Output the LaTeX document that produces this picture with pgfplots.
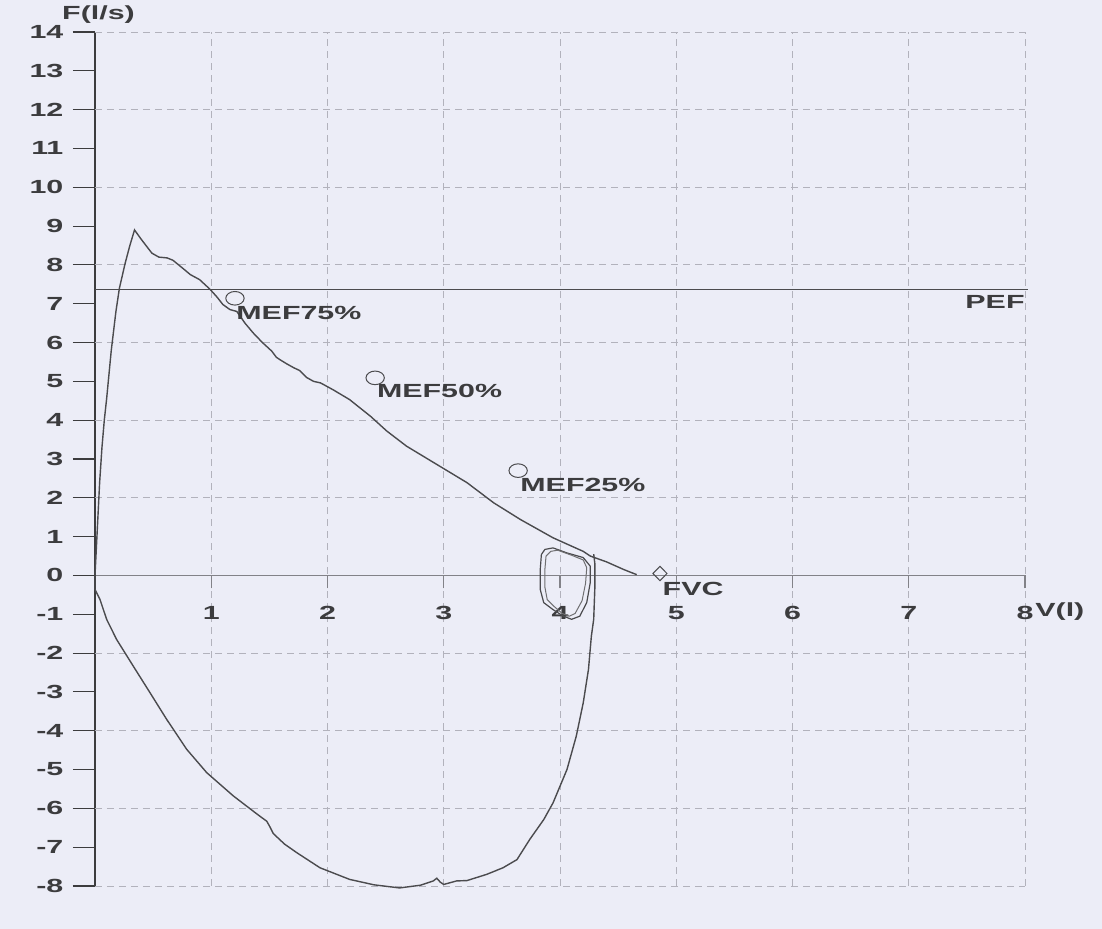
\documentclass[border=0pt]{standalone}
\usepackage{fontspec}
\setmainfont{Liberation Sans}[FakeStretch=1.6]
\usepackage{pgfplots}
\pgfplotsset{compat=1.18}
\begin{document}
\begin{tikzpicture}
\definecolor{paper}{RGB}{236,237,247}
\definecolor{ink}{RGB}{60,60,62}
\definecolor{curve}{RGB}{75,75,78}
\definecolor{gridc}{RGB}{178,178,188}
\definecolor{xaxc}{RGB}{130,130,136}
\fill[paper] (-47.5pt,-21.5pt) rectangle (503.5pt,443pt);
\begin{axis}[
  at={(0pt,0pt)}, anchor=south west,
  scale only axis, width=465pt, height=427pt,
  xmin=0, xmax=8, ymin=-8, ymax=14,
  axis x line=middle, axis y line=left,
  x axis line style={xaxc, line width=0.5pt, -},
  y axis line style={ink, line width=0.6pt, -},
  xtick={1,2,3,4,5,6,7,8},
  xticklabels={1,2,3,4,5,6,7,8},
  ytick={-8,-7,-6,-5,-4,-3,-2,-1,0,1,2,3,4,5,6,7,8,9,10,11,12,13,14},
  yticklabels={-8,-7,-6,-5,-4,-3,-2,-1,0,1,2,3,4,5,6,7,8,9,10,11,12,13,14},
  hide obscured y ticks=false, hide obscured x ticks=false,
  tick align=outside,
  xtick style={xaxc, line width=0.55pt, /pgfplots/major tick length=6.5pt},
  ytick style={ink, line width=0.55pt, /pgfplots/major tick length=11pt},
  xmajorgrids=true,
  grid style={gridc, line width=0.4pt, dash pattern=on 3.5pt off 2.5pt},
  extra y ticks={-8,-6,-4,-2,2,4,6,8,10,12,14},
  extra y tick labels={},
  extra y tick style={ymajorgrids=true, /pgfplots/major tick length=0pt},
  ticklabel style={font=\fontsize{9.5}{11}\selectfont\bfseries, text=ink},
  xticklabel style={yshift=-7.5pt},
  yticklabel style={xshift=-8pt},
  /pgf/number format/assume math mode=true,
  clip=false,
]
% expiratory limb
\addplot[curve, line width=0.7pt] coordinates {
(0.0,0.0)(0.01,0.6)(0.025,1.5)(0.04,2.4)(0.06,3.3)(0.08,4.0)(0.1,4.55)(0.14,5.8)
(0.18,6.8)(0.21,7.4)(0.26,8.05)(0.3,8.5)(0.34,8.9)(0.4,8.65)(0.49,8.3)(0.55,8.2)
(0.62,8.18)(0.67,8.12)(0.74,7.95)(0.82,7.75)(0.9,7.62)(0.99,7.37)(1.05,7.17)
(1.1,6.98)(1.16,6.85)(1.22,6.8)(1.29,6.5)(1.36,6.25)(1.44,6.0)(1.52,5.78)
(1.56,5.62)(1.59,5.56)(1.65,5.45)(1.71,5.35)(1.76,5.28)(1.82,5.1)(1.88,5.0)
(1.94,4.96)(2.05,4.78)(2.19,4.53)(2.37,4.1)(2.51,3.72)(2.68,3.33)(2.94,2.86)
(3.2,2.39)(3.43,1.87)(3.66,1.44)(3.94,0.97)(4.2,0.62)(4.26,0.5)(4.4,0.35)
(4.55,0.15)(4.66,0.02)
};
% inspiratory limb
\addplot[curve, line width=0.7pt] coordinates {
(0,0)(0.0,-0.36)(0.043,-0.62)(0.1,-1.13)(0.186,-1.65)(0.33,-2.34)(0.473,-3.02)
(0.617,-3.71)(0.789,-4.48)(0.961,-5.08)(1.19,-5.68)(1.36,-6.07)(1.44,-6.25)
(1.477,-6.33)(1.5,-6.45)(1.534,-6.65)(1.63,-6.92)(1.735,-7.14)(1.935,-7.53)
(2.19,-7.83)(2.4,-7.97)(2.62,-8.05)(2.8,-7.98)(2.91,-7.87)(2.94,-7.8)(2.97,-7.9)
(3.0,-7.96)(3.11,-7.87)(3.2,-7.86)(3.37,-7.7)(3.51,-7.53)(3.63,-7.32)(3.74,-6.8)
(3.86,-6.29)(3.94,-5.86)(4.06,-5.0)(4.14,-4.14)(4.2,-3.28)(4.245,-2.42)
(4.27,-1.56)(4.29,-1.13)(4.3,-0.3)(4.3,0.3)(4.29,0.55)
};
% tidal loops
\addplot[curve, line width=0.6pt] coordinates {
(3.84,0.54)(3.87,0.67)(3.94,0.71)(4.06,0.58)(4.2,0.46)(4.26,0.24)(4.26,-0.19)
(4.23,-0.7)(4.17,-1.05)(4.1,-1.13)(4.03,-1.05)(3.94,-0.88)(3.86,-0.7)(3.83,-0.36)
(3.83,0.15)(3.84,0.54)
};
\addplot[curve!80, line width=0.5pt] coordinates {
(3.88,0.5)(3.92,0.62)(3.98,0.65)(4.1,0.52)(4.2,0.4)(4.23,0.2)(4.22,-0.2)
(4.19,-0.65)(4.13,-0.98)(4.08,-1.05)(4.02,-0.98)(3.95,-0.8)(3.89,-0.62)
(3.87,-0.3)(3.87,0.15)(3.88,0.5)
};
% PEF line
\addplot[curve, line width=0.6pt] coordinates {(0,7.37)(8.03,7.37)};
% MEF markers
\addplot[only marks, mark=o, mark size=3.4pt, mark options={xscale=1.35, curve, line width=0.5pt}]
  coordinates {(1.204,7.14)(2.41,5.09)(3.64,2.7)};
% FVC marker
\addplot[only marks, mark=diamond, mark size=3.6pt, mark options={xscale=1.3, curve, line width=0.5pt}]
  coordinates {(4.86,0.05)};
\begin{scope}[every node/.style={font=\fontsize{9.5}{11}\selectfont\bfseries, text=ink, inner sep=0pt}]
\node[anchor=west] at (axis cs:1.213,6.77) {MEF75\%};
\node[anchor=west] at (axis cs:2.423,4.75) {MEF50\%};
\node[anchor=west] at (axis cs:3.656,2.34) {MEF25\%};
\node[anchor=west] at (axis cs:4.88,-0.36) {FVC};
\node[anchor=east] at (axis cs:8.0,7.04) {PEF};
\node at (axis cs:0.03,14.45) {F(l/s)};
\node[anchor=west] at (axis cs:8.086,-0.93) {V(l)};
\end{scope}
\end{axis}
\end{tikzpicture}
\end{document}
